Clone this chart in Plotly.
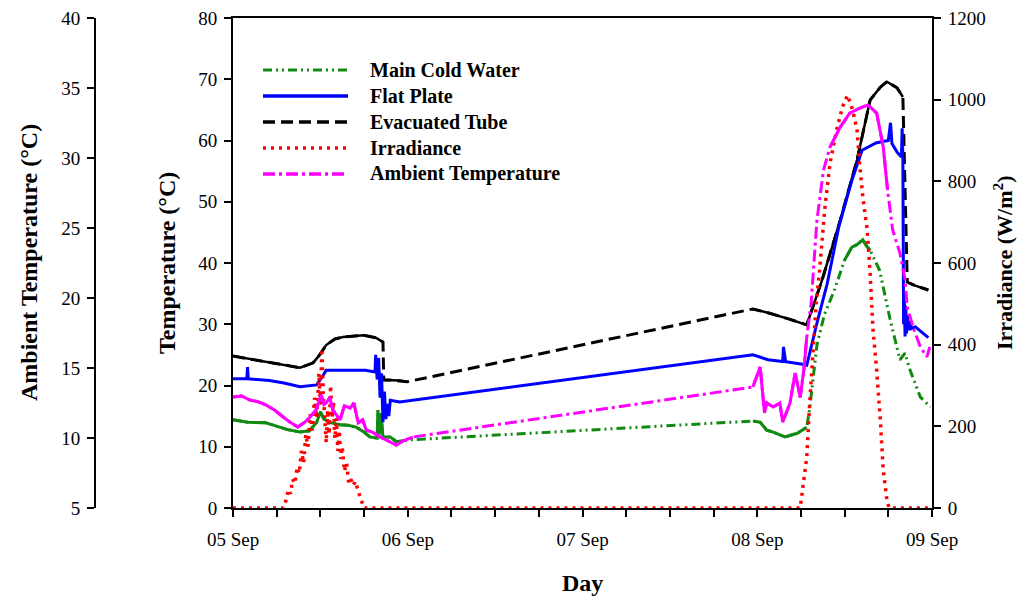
import pandas as pd
import plotly.graph_objects as go

W, H = 1022, 597
BASE = pd.Timestamp("2023-09-05")

# ---------------- data (hours since 05 Sep 00:00) ----------------
et_h = [0, 2.3, 5.1, 7.8, 9.2, 11.0, 11.9, 12.8, 14.0, 15.1, 16.5, 17.9, 18.8, 19.6, 20.6,
        20.7, 21.6, 22.9, 23.9,
        71.4, 73.7, 76.5, 77.9, 78.8, 80.9, 83.4, 85.7, 87.5, 88.9, 89.8, 91.2, 92.0,
        92.6, 93.7, 95.5]
et_v = [24.8, 24.3, 23.8, 23.1, 22.9, 23.7, 25.0, 26.6, 27.6, 27.9, 28.1, 28.2, 28.0, 27.8, 27.1,
        20.9, 20.9, 20.8, 20.6,
        32.5, 31.8, 30.8, 30.3, 29.9, 37.2, 47.0, 56.8, 66.6, 68.7, 69.6, 68.6, 67.1,
        36.9, 36.3, 35.6]

fp_h = [0, 1.9, 2.0, 2.1, 5.0, 7.0, 9.2, 11.5, 12.3, 12.8, 15.1, 18.2, 19.5, 19.6, 19.8, 20.0,
        20.2, 20.4, 20.6, 20.8, 21.0, 21.2, 21.4, 21.6, 22.9,
        71.4, 73.5, 75.5, 75.6, 75.9, 78.0, 78.8, 80.2, 81.6, 83.2, 85.0, 86.4, 88.3, 89.1,
        90.0, 90.3, 90.5, 91.2, 91.8, 91.9, 92.0, 92.1, 92.2, 92.3, 92.4, 92.5, 92.6, 92.8,
        93.0, 93.2, 93.7, 94.5, 95.5]
fp_v = [21.1, 21.1, 23.0, 21.1, 20.8, 20.4, 19.8, 20.1, 21.5, 22.5, 22.5, 22.5, 22.2, 25.0, 21.0, 24.5,
        18.0, 22.0, 14.0, 19.0, 14.5, 17.0, 15.0, 17.6, 17.3,
        25.0, 24.2, 23.9, 26.3, 23.9, 23.5, 23.3, 30.2, 36.6, 45.9, 53.5, 58.4, 59.6, 59.8,
        60.0, 62.9, 59.5, 58.1, 57.3, 62.0, 57.0, 30.0, 34.0, 28.0, 33.0, 28.5, 31.5, 29.0,
        30.5, 29.3, 29.6, 28.8, 27.8]

mcw_h = [0, 2.0, 4.5, 6.0, 7.5, 9.2, 10.5, 11.5, 12.0, 12.5, 13.5, 14.7, 15.8, 16.9, 18.0, 18.8,
         19.8, 19.9, 20.1, 20.3, 20.6, 21.6, 22.5, 23.9,
         71.4, 72.4, 73.3, 74.2, 75.8, 77.5, 78.8, 79.2, 80.2, 81.2, 82.6, 84.0, 85.0, 85.7,
         86.5, 87.0, 87.5, 88.8, 90.3, 91.6, 92.3, 92.6, 93.0, 94.4, 95.8]
mcw_v = [14.4, 14.0, 13.9, 13.3, 12.8, 12.4, 12.6, 14.0, 15.7, 14.5, 13.9, 13.6, 13.5, 13.2, 12.4, 11.6,
         11.4, 16.0, 12.0, 15.5, 11.6, 11.6, 10.8, 11.1,
         14.2, 14.0, 12.7, 12.4, 11.6, 12.2, 13.2, 16.3, 26.6, 31.5, 35.6, 40.5, 42.6, 43.0,
         43.8, 42.8, 42.1, 38.8, 30.5, 24.2, 25.3, 24.0, 22.5, 18.1, 16.5]

amb_h = [0, 1.2, 2.3, 3.4, 4.5, 5.7, 6.9, 7.9, 8.9, 9.8, 10.6, 11.4, 12.1, 12.5, 12.8, 13.3,
         13.7, 14.2, 14.7, 15.3, 16.1, 16.6, 17.2, 17.8, 18.3, 19.2, 20.2, 21.3, 22.4, 23.4, 24.7,
         71.4, 72.4, 73.0, 73.3, 74.2, 75.1, 75.5, 76.5, 77.2, 77.9, 78.4, 78.8, 79.4, 79.7,
         80.2, 81.1, 82.0, 83.4, 84.7, 86.1, 87.2, 88.4, 89.3, 89.9, 90.6, 91.6, 92.3, 92.6,
         93.4, 94.4, 95.3, 95.7]
amb_v = [12.93, 13.0, 12.71, 12.6, 12.36, 12.0, 11.5, 11.1, 10.79, 11.1, 11.5, 12.0, 13.07, 12.4, 12.5, 12.9,
         12.0, 11.6, 11.29, 12.3, 12.14, 12.5, 11.07, 11.3, 10.57, 10.4, 10.07, 9.8, 9.5, 9.8, 10.07,
         13.64, 15.07, 11.79, 12.5, 12.21, 12.5, 11.14, 12.5, 14.64, 12.9, 14.86, 17.21, 19.64, 22.0,
         25.57, 29.14, 30.79, 32.21, 33.21, 33.57, 33.79, 33.21, 30.79, 27.71, 24.86, 23.21, 21.29, 19.36,
         17.93, 16.5, 15.79, 16.5]

irr_h = [0, 6.9, 7.3, 7.6, 7.9, 8.2, 8.5, 8.8, 9.1, 9.4, 9.7, 10.0, 10.3, 10.6, 10.9, 11.2, 11.5,
         11.8, 12.0, 12.2, 12.4, 12.6, 12.8, 13.0, 13.2, 13.4, 13.6, 13.8, 14.0, 14.2, 14.4, 14.6,
         14.8, 15.0, 15.3, 15.6, 15.9, 16.2, 16.5, 16.8, 17.1, 17.4, 17.7, 18.0,
         77.9, 78.3, 78.8, 79.2, 79.7, 80.1, 80.5, 81.3, 82.0, 82.9, 83.7, 84.4, 85.1, 85.7,
         86.1, 86.5, 87.1, 87.5, 87.9, 88.4, 88.9, 89.3, 89.8, 90.1, 96.0]
irr_v = [0, 0, 20, 45, 35, 70, 60, 100, 85, 140, 110, 180, 150, 230, 190, 270, 220,
         330, 250, 390, 280, 200, 160, 240, 180, 300, 220, 260, 170, 220, 140, 190,
         120, 150, 90, 110, 60, 70, 55, 65, 45, 30, 15, 0,
         0, 60, 125, 257, 380, 502, 570, 737, 845, 926, 982, 1011, 975, 926,
         835, 762, 681, 575, 436, 338, 216, 93, 20, 0, 0]

day_ticks = ["2023-09-05", "2023-09-06", "2023-09-07", "2023-09-08", "2023-09-09"]
day_labels = ["05 Sep", "06 Sep", "07 Sep", "08 Sep", "09 Sep"]

series_names = ["Main Cold Water", "Flat Plate", "Evacuated Tube", "Irradiance", "Ambient Temperature"]
# ------------------------------------------------------------------

FONT = "Liberation Serif"
GREEN, BLUE, BLACK, RED, MAG = "#118a11", "#0000ff", "#000000", "#ff0000", "#ff00ff"
DASH_G = "9px,4px,2px,4px,2px,4px"
DASH_K = "12px,6px"
DASH_R = "3px,5px"
DASH_M = "12px,4px,3px,4px"


def t(hours):
    return [BASE + pd.Timedelta(hours=x) for x in hours]


def dense(h, v, windows):
    xs, ys, prev = [], [], None
    for hi, vi in zip(h, v):
        w = next((k for k, (a, b) in enumerate(windows) if a <= hi <= b), None)
        if w is None or (prev is not None and w != prev):
            if xs and xs[-1] is not None:
                xs.append(None)
                ys.append(None)
        if w is not None:
            xs.append(BASE + pd.Timedelta(hours=hi))
            ys.append(vi)
        prev = w
    return xs, ys


fig = go.Figure()

# Main cold water
fig.add_trace(go.Scatter(x=t(mcw_h), y=mcw_v, mode="lines", name=series_names[0],
                         line=dict(color=GREEN, width=3, dash=DASH_G), showlegend=False))
gx, gy = dense(mcw_h, mcw_v, [(0, 24), (71.4, 78.8), (84, 88)])
fig.add_trace(go.Scatter(x=gx, y=gy, mode="lines", line=dict(color=GREEN, width=3),
                         showlegend=False, connectgaps=False, hoverinfo="skip"))

# Evacuated tube
fig.add_trace(go.Scatter(x=t(et_h), y=et_v, mode="lines", name=series_names[2],
                         line=dict(color=BLACK, width=3, dash=DASH_K), showlegend=False))
kx, ky = dense(et_h, et_v, [(0, 20.6), (20.7, 24), (71.4, 92.0), (92.6, 96)])
fig.add_trace(go.Scatter(x=kx, y=ky, mode="lines", line=dict(color=BLACK, width=2.5),
                         showlegend=False, connectgaps=False, hoverinfo="skip"))

# Flat plate
fig.add_trace(go.Scatter(x=t(fp_h), y=fp_v, mode="lines", name=series_names[1],
                         line=dict(color=BLUE, width=3), showlegend=False))

# Ambient temperature (left-most axis)
fig.add_trace(go.Scatter(x=t(amb_h), y=amb_v, mode="lines", name=series_names[4], yaxis="y3",
                         line=dict(color=MAG, width=3, dash=DASH_M), showlegend=False))
mx, my = dense(amb_h, amb_v, [(0, 24.7), (71.4, 79.0), (81.5, 90.0)])
fig.add_trace(go.Scatter(x=mx, y=my, mode="lines", yaxis="y3", line=dict(color=MAG, width=3),
                         showlegend=False, connectgaps=False, hoverinfo="skip"))

# Irradiance (right axis)
fig.add_trace(go.Scatter(x=t(irr_h), y=irr_v, mode="lines", name=series_names[3], yaxis="y2",
                         line=dict(color=RED, width=3.5, dash=DASH_R), showlegend=False))


def px(x):
    return x / W


def py(y):
    return 1 - y / H


X0, X1, Y0, Y1 = 233, 932, 18, 508
axis_common = dict(showline=True, linecolor="black", linewidth=2, ticks="outside", ticklen=7,
                   tickwidth=2, tickcolor="black", showgrid=False, zeroline=False,
                   tickfont=dict(family=FONT, size=19, color="black"), automargin=False)

fig.update_layout(
    width=W, height=H, template="none",
    paper_bgcolor="white", plot_bgcolor="white",
    margin=dict(l=0, r=0, t=0, b=0),
    showlegend=False,
    xaxis=dict(domain=[px(X0), px(X1)], type="date",
               range=[day_ticks[0], day_ticks[-1]],
               tickvals=day_ticks, ticktext=day_labels, mirror=True, ticklabelstandoff=6,
               minor=dict(dtick=6 * 3600 * 1000, ticks="outside", ticklen=7, tickwidth=2,
                          tickcolor="black", showgrid=False),
               **axis_common),
    yaxis=dict(domain=[py(Y1), py(Y0)], range=[0, 80], dtick=10, side="left",
               ticklabelstandoff=3, **axis_common),
    yaxis2=dict(overlaying="y", side="right", anchor="x", range=[0, 1200], dtick=200,
                ticklabelstandoff=3, **axis_common),
    yaxis3=dict(overlaying="y", side="left", anchor="free", position=px(95), range=[5, 40], dtick=5,
                ticklabelstandoff=3, **axis_common),
)

# axis titles
title_font = dict(family=FONT, size=24, color="black")
fig.add_annotation(text="<b>Ambient Temperature (°C)</b>", x=px(29), y=py(263), xref="paper", yref="paper",
                   xanchor="center", yanchor="middle", textangle=-90, showarrow=False, font=title_font)
fig.add_annotation(text="<b>Temperature (°C)</b>", x=px(167), y=py(263), xref="paper", yref="paper",
                   xanchor="center", yanchor="middle", textangle=-90, showarrow=False, font=title_font)
fig.add_annotation(text="<b>Irradiance (W/m<sup>2</sup>)</b>", x=px(1003), y=py(263), xref="paper",
                   yref="paper", xanchor="center", yanchor="middle", textangle=-90, showarrow=False,
                   font=dict(family=FONT, size=22, color="black"))
fig.add_annotation(text="<b>Day</b>", x=px(582), y=py(583), xref="paper", yref="paper",
                   xanchor="center", yanchor="middle", showarrow=False, font=title_font)

# legend (drawn manually to match the long line samples)
leg_styles = [(GREEN, DASH_G, 3), (BLUE, "solid", 3.5), (BLACK, DASH_K, 3.5), (RED, DASH_R, 3.5),
              (MAG, DASH_M, 3.5)]
for i, (name, (col, dsh, wd)) in enumerate(zip(series_names, leg_styles)):
    yy = 70 + 26 * i
    fig.add_shape(type="line", xref="paper", yref="paper", x0=px(263), x1=px(348), y0=py(yy), y1=py(yy),
                  line=dict(color=col, width=wd, dash=dsh))
    fig.add_annotation(text="<b>" + name + "</b>", x=px(368), y=py(yy), xref="paper", yref="paper",
                       xanchor="left", yanchor="middle", showarrow=False,
                       font=dict(family=FONT, size=20, color="black"))

fig.write_html("out.html")
